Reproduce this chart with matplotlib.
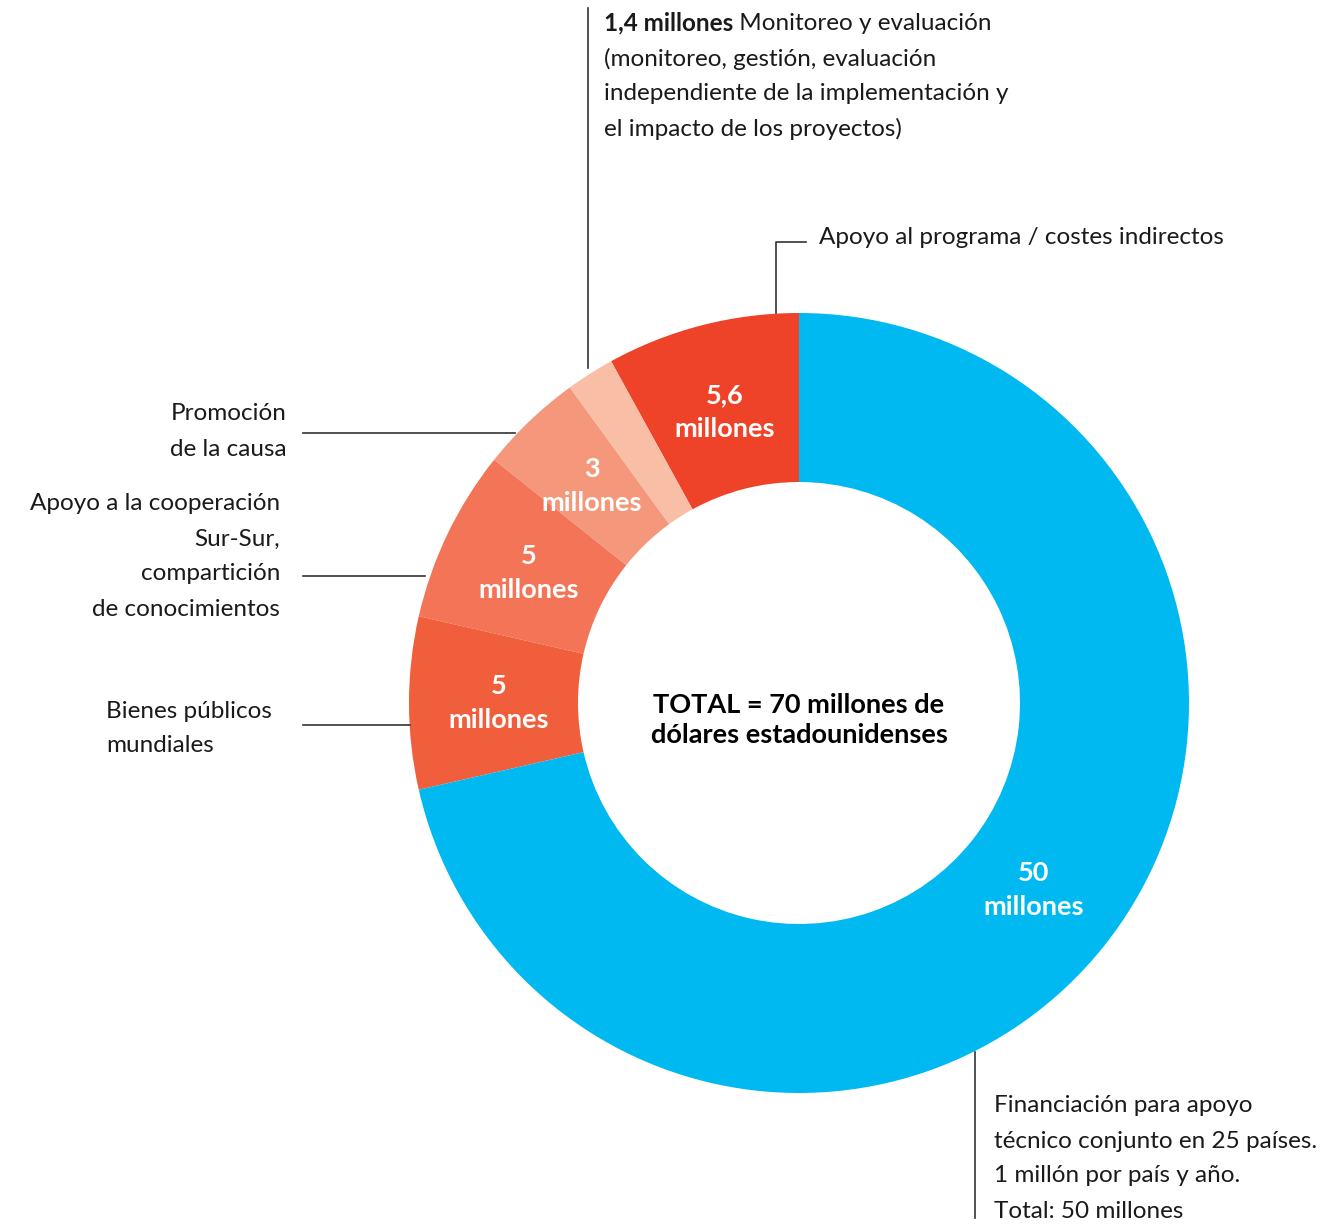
import numpy as np
import matplotlib
matplotlib.use("Agg")
import matplotlib.pyplot as plt

plt.rcParams['font.family'] = ['Lato', 'DejaVu Sans']

# data (millones de USD), counter-clockwise from the top
valores = [5.6, 1.4, 3, 5, 5, 50]
colores = ['#EE4329', '#F9BEA6', '#F5977A', '#F37456', '#F05E3B', '#00B9F0']
total = sum(valores)
titulo_centro = "TOTAL = 70 millones de\ndólares estadounidenses"

W, H = 1331, 1226
cx, cy = 799, H - 703
r_out, r_in = 390, 221

fig = plt.figure(figsize=(W / 100, H / 100), dpi=100)
ax = fig.add_axes([0, 0, 1, 1])


def etiqueta(pct):
    v = pct * total / 100
    if v < 2:
        return ''
    return f"{v:.1f}".rstrip('0').rstrip('.').replace('.', ',') + "\nmillones"


wedges, textos, autotextos = ax.pie(
    valores, colors=colores, startangle=90, counterclock=True,
    radius=r_out, center=(cx, cy), frame=True,
    wedgeprops=dict(width=r_out - r_in, linewidth=0),
    autopct=etiqueta, pctdistance=0.77,
    textprops=dict(color='white', fontsize=19.5, fontweight='bold',
                   linespacing=1.5))
ax.set_xlim(0, W)
ax.set_ylim(0, H)
ax.set_aspect('equal')
ax.axis('off')

ax.text(cx, cy - 17, titulo_centro, ha='center', va='center', fontsize=19.5,
        fontweight='bold', color='black', linespacing=1.3)

lc = '#333333'
lw = 1.2
fs = 17.5
step = 35


def lineas(x, y_top, lines, ha='left'):
    for i, s in enumerate(lines):
        ax.text(x, H - (y_top + i * step), s, ha=ha, va='center',
                fontsize=fs, color='#1a1a1a')


# Apoyo al programa
ax.plot([776, 776, 806], [H - 313, H - 242, H - 242], color=lc, lw=lw)
lineas(819, 238, ["Apoyo al programa / costes indirectos"])

# Monitoreo y evaluacion
ax.plot([588, 588], [H - 368, H - 8], color=lc, lw=lw)
t1 = ax.text(604, H - 23, "1,4 millones", ha='left', va='center',
             fontsize=fs, fontweight='bold', color='#1a1a1a')
ax.annotate(" Monitoreo y evaluación", xy=(1, H - 23), xycoords=(t1, 'data'),
            ha='left', va='center', fontsize=fs, color='#1a1a1a')
lineas(604, 59, ["(monitoreo, gestión, evaluación",
                 "independiente de la implementación y",
                 "el impacto de los proyectos)"])

# Promocion de la causa
ax.plot([303, 515], [H - 433, H - 433], color=lc, lw=lw)
lineas(287, 414, ["Promoción", "de la causa"], ha='right')

# Sur-Sur
ax.plot([303, 425], [H - 576, H - 576], color=lc, lw=lw)
lineas(280, 504, ["Apoyo a la cooperación", "Sur-Sur,", "compartición",
                  "de conocimientos"], ha='right')

# Bienes publicos
ax.plot([303, 410], [H - 725, H - 725], color=lc, lw=lw)
lineas(106, 711, ["Bienes públicos", "mundiales"])

# Financiacion
ax.plot([975, 975], [H - 1052, H - 1218], color=lc, lw=lw)
lineas(994, 1106, ["Financiación para apoyo",
                   "técnico conjunto en 25 países.",
                   "1 millón por país y año.",
                   "Total: 50 millones"])

fig.savefig('out.png', dpi=100)
